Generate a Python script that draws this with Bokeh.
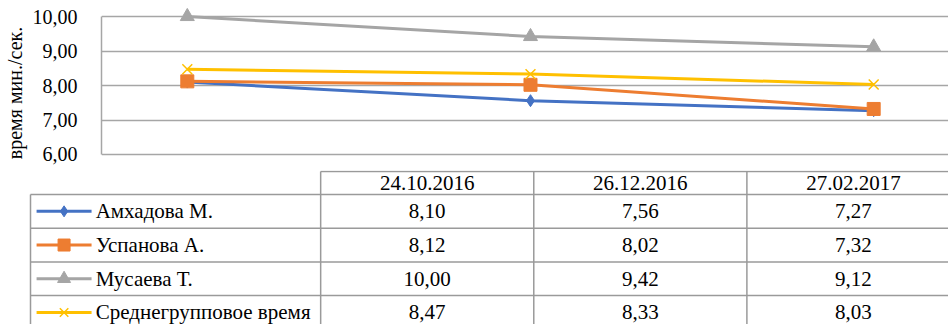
from bokeh.plotting import figure
from bokeh.layouts import column
from bokeh.models import Range1d, FixedTicker, CustomJSTickFormatter
from bokeh.core.properties import value
from bokeh.embed import file_html
from bokeh.resources import INLINE

dates = ["24.10.2016", "26.12.2016", "27.02.2017"]
names = ["Амхадова М.", "Успанова А.", "Мусаева Т.", "Среднегрупповое время"]
amkhadova = [8.10, 7.56, 7.27]
uspanova = [8.12, 8.02, 7.32]
musaeva = [10.00, 9.42, 9.12]
average = [8.47, 8.33, 8.03]
y_ticks = [6, 7, 8, 9, 10]
y_title = "время мин./сек."

series = [amkhadova, uspanova, musaeva, average]
colors = ["#4472C4", "#ED7D31", "#A5A5A5", "#FFC000"]
markers = ["diamond", "square", "triangle", "x"]
msizes = [12, 13, 14, 14]
FONT = "Times New Roman"
GRID = "#A6A6A6"
TBL = "#9A9A9A"

xs = list(range(len(dates)))

# ---- chart ----
p1 = figure(width=948, height=170, x_range=Range1d(-0.25, 2.218),
            y_range=Range1d(5.884, 10.406), output_backend="svg",
            toolbar_location=None, x_axis_location=None,
            min_border_left=100, min_border_right=0,
            min_border_top=2, min_border_bottom=12)
p1.frame_align = False
p1.outline_line_color = None
p1.xgrid.visible = False
p1.ygrid.ticker = FixedTicker(ticks=y_ticks)
p1.ygrid.grid_line_color = GRID
p1.ygrid.grid_line_width = 1.5
ax = p1.yaxis[0]
ax.ticker = FixedTicker(ticks=y_ticks)
ax.bounds = (min(y_ticks), max(y_ticks))
ax.formatter = CustomJSTickFormatter(code="return tick.toFixed(2).replace('.', ',');")
ax.major_tick_line_color = None
ax.minor_tick_line_color = None
ax.axis_line_color = GRID
ax.axis_line_width = 1.5
ax.major_label_text_font = FONT
ax.major_label_text_font_size = "20px"
ax.major_label_text_color = "#000000"
ax.major_label_standoff = 18
# trailing no-break spaces move the centred title down onto the 6..10 span
ax.axis_label = y_title + "\u00a0" * 5
ax.axis_label_text_font = FONT
ax.axis_label_text_font_size = "20px"
ax.axis_label_text_font_style = "normal"
ax.axis_label_text_color = "#000000"
ax.axis_label_standoff = 4

for vals, c, m, s in zip(series, colors, markers, msizes):
    p1.line(xs, vals, line_color=c, line_width=3)
    if m == "x":
        p1.scatter(xs, vals, marker=m, size=s, line_color=c, line_width=1.5)
    else:
        p1.scatter(xs, vals, marker=m, size=s, fill_color=c, line_color=c)

# ---- data table ----
p2 = figure(width=948, height=154, x_range=Range1d(-1.5023, 2.946),
            y_range=Range1d(3.858, -0.712), output_backend="svg",
            toolbar_location=None, x_axis_location=None, y_axis_location=None,
            min_border_left=0, min_border_right=0,
            min_border_top=0, min_border_bottom=0)
p2.frame_align = False
p2.outline_line_color = None
p2.grid.visible = False

head_top = -0.682
leg_left = -1.3615
nrows = len(names)
ncols = len(dates)
# horizontal lines
p2.segment(x0=[0], y0=[head_top], x1=[ncols + 0.5], y1=[head_top], line_color=TBL, line_width=1.5)
p2.segment(x0=[leg_left] * nrows, y0=list(range(nrows)), x1=[ncols + 0.5] * nrows,
           y1=list(range(nrows)), line_color=TBL, line_width=1.5)
# vertical lines
p2.segment(x0=list(range(ncols)), y0=[head_top] * ncols, x1=list(range(ncols)),
           y1=[nrows + 0.5] * ncols, line_color=TBL, line_width=1.5)
p2.segment(x0=[leg_left], y0=[0], x1=[leg_left], y1=[nrows + 0.5], line_color=TBL, line_width=1.5)

# header
p2.text(x=[i + 0.5 for i in xs], y=[head_top / 2] * ncols, text=dates,
        text_font=value(FONT), text_font_size="21px", text_align="center",
        text_baseline="middle", text_color="#000000")

# values
tx, ty, tt = [], [], []
for r, vals in enumerate(series):
    for i, v in enumerate(vals):
        tx.append(i + 0.5)
        ty.append(r + 0.5)
        tt.append(f"{v:.2f}".replace(".", ","))
p2.text(x=tx, y=ty, text=tt, text_font=value(FONT), text_font_size="21px",
        text_align="center", text_baseline="middle", text_color="#000000")

# legend keys
for r, (c, m, s) in enumerate(zip(colors, markers, msizes)):
    yy = r + 0.5
    p2.segment(x0=[-1.333], y0=[yy], x1=[-1.075], y1=[yy], line_color=c, line_width=3)
    if m == "x":
        p2.scatter([-1.204], [yy], marker=m, size=s - 2, line_color=c, line_width=1.5)
    else:
        p2.scatter([-1.204], [yy], marker=m, size=s - 1, fill_color=c, line_color=c)
p2.text(x=[-1.0558] * nrows, y=[r + 0.5 for r in range(nrows)], text=names,
        text_font=value(FONT), text_font_size="21px", text_align="left",
        text_baseline="middle", text_color="#000000")

layout = column(p1, p2, spacing=0)
open("out.html", "w").write(file_html(layout, INLINE))
